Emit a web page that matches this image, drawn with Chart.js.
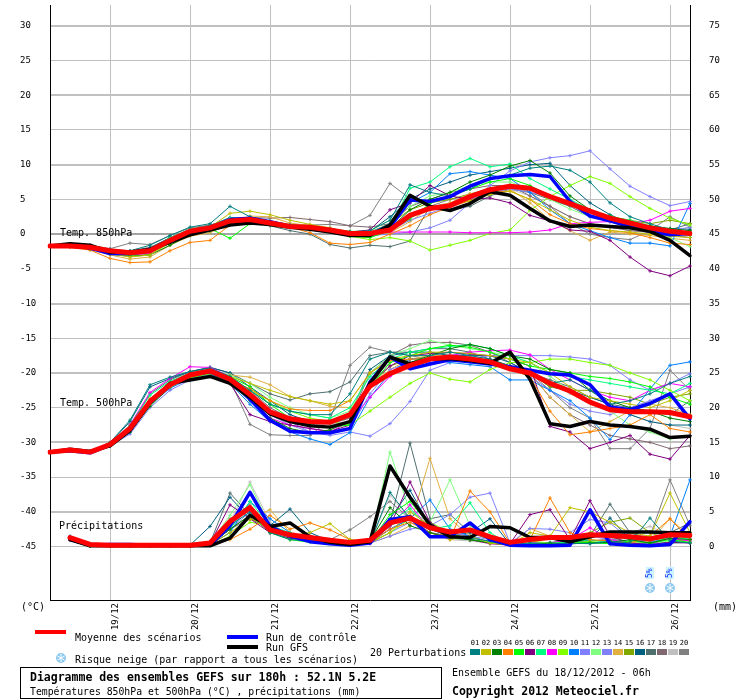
<!DOCTYPE html>
<html>
<head>
<meta charset="utf-8">
<title>Diagramme des ensembles GEFS</title>
<script src="https://cdn.jsdelivr.net/npm/chart.js@4.4.0/dist/chart.umd.min.js"></script>
<style>
  html, body { margin: 0; padding: 0; background: #fff; }
  canvas { display: block; }
</style>
</head>
<body>
<canvas id="gefsChart" width="740" height="700"></canvas>
<script>
// echeances (heures depuis le 18/12/2012 06h), pas de 6h
const hours = [0,6,12,18,24,30,36,42,48,54,60,66,72,78,84,90,96,102,108,114,120,126,132,138,144,150,156,162,168,174,180,186,192];
const dateLabels = ['','','','19/12','','','','20/12','','','','21/12','','','','22/12','','','','23/12','','','','24/12','','','','25/12','','','','26/12',''];
const leftTicks = [30,25,20,15,10,5,0,-5,-10,-15,-20,-25,-30,-35,-40,-45];
const rightTicks = [75,70,65,60,55,50,45,40,35,30,25,20,15,10,5,0];

// moyenne, controle, GFS
const mean850 = [-1.7,-1.7,-1.9,-2.4,-2.7,-2.4,-0.9,0.4,0.9,1.9, 2.1,1.6,1.1,1.0,0.6,0.1,0.1,0.6,2.7,3.7, 4.1,5.4,6.4,6.9,6.6,5.4,4.4,3.3,2.3,1.6, 0.9,0.4,0.1];
const ctrl850 = [-1.7,-1.6,-2.0,-2.8,-2.8,-2.4,-0.9,0.2,0.9,2.1, 2.3,1.8,1.1,0.9,0.6,0.1,0.0,1.0,4.9,4.7, 5.4,6.9,8.0,8.4,8.6,8.3,4.7,2.6,1.9,1.1, 0.4,-0.1,0.1];
const gfs850 = [-1.7,-1.4,-1.6,-2.6,-2.6,-2.2,-1.2,-0.1,0.6,1.3, 1.6,1.4,1.0,0.7,0.3,-0.2,-0.2,1.3,5.6,4.0, 3.4,4.4,6.1,5.6,3.7,1.9,1.1,1.3,1.1,0.9, 0.4,-0.9,-3.1];

const mean500 = [-31.4,-31.1,-31.4,-30.3,-28.0,-24.1,-21.7,-20.3,-19.7,-20.9, -23.1,-25.6,-26.6,-27.0,-27.1,-26.0,-21.9,-20.1,-18.9,-18.0, -17.7,-18.0,-18.4,-19.4,-20.0,-21.5,-22.6,-24.2,-25.3,-25.6, -25.6,-25.7,-26.3];
const ctrl500 = [-31.4,-31.2,-31.5,-30.4,-28.2,-24.2,-21.7,-20.3,-19.8,-21.0, -23.8,-26.8,-28.4,-28.6,-28.6,-28.0,-21.3,-17.7,-19.4,-18.7, -18.1,-18.4,-18.7,-19.1,-19.6,-20.1,-20.3,-21.7,-24.9,-25.3, -24.4,-23.0,-26.6];
const gfs500 = [-31.4,-31.0,-31.3,-30.5,-28.3,-24.3,-21.5,-21.0,-20.5,-21.5, -23.5,-25.9,-27.0,-27.6,-27.8,-27.0,-21.5,-17.7,-18.7,-18.0, -17.9,-18.2,-18.6,-17.0,-20.9,-27.3,-27.7,-27.0,-27.5,-27.7, -28.1,-29.3,-29.1];

const meanRain = [null,1.3,0.3,0.2,0.2,0.2,0.2,0.2,0.5,3.6, 5.6,2.4,1.7,1.3,0.9,0.6,0.9,3.4,4.1,2.7, 2.1,2.4,1.4,0.6,1.0,1.3,1.3,1.7,1.6,1.4, 1.1,1.7,1.6];
const ctrlRain = [null,1.0,0.2,0.3,0.3,0.2,0.2,0.2,0.2,3.0, 7.8,2.9,1.5,0.7,0.4,0.2,0.5,3.9,4.3,1.4, 1.4,3.4,1.0,0.2,0.1,0.1,0.2,5.3,0.4,0.2, 0.1,0.3,3.6];
const gfsRain = [null,1.0,0.1,0.1,0.1,0.1,0.1,0.1,0.1,1.2, 4.5,2.9,3.4,1.4,0.6,0.3,0.7,11.6,7.1,3.1, 1.4,1.3,2.9,2.7,1.3,1.3,0.7,1.4,2.1,2.1, 2.1,2.0,2.0];

// risque neige (%)
const snowRisk = [null,null,null,null,null,null,null,null,null,null, null,null,null,null,null,null,null,null,null,null, null,null,null,null,null,null,null,null,null,null, 5,5,null];

// 20 perturbations
const pertColors = ['#008080','#c0c000','#008000','#ff8000','#00ff00','#800080','#00ff80','#ff00ff','#80ff00','#0080ff',
                    '#8080ff','#80ff80','#8080f8','#e0b040','#80a800','#006080','#507070','#806870','#c0c0c0','#808080'];

const t850Pert = [
  [-1.7,-1.5,-1.8,-2.3,-2.4,-1.6,-0.2,1.0,1.5,4.0, 2.5,1.8,1.3,1.0,0.8,0.3,0.5,2.0,7.1,6.0, 5.5,6.5,8.0,8.5,9.5,9.8,9.2,7.5,4.5,2.5, 1.5,0.6,0.0],
  [-1.7,-1.8,-2.0,-2.8,-3.3,-3.0,-1.2,0.3,1.0,3.0, 3.3,2.8,2.0,1.4,0.9,0.2,0.0,0.5,2.5,3.5, 4.2,4.8,5.7,6.2,5.0,3.5,2.0,1.0,0.5,0.3, 0.0,-0.3,-0.5],
  [-1.7,-1.6,-2.1,-2.9,-3.2,-3.0,-1.6,-0.1,0.5,1.6, 1.9,1.5,1.0,0.8,0.5,0.0,-0.2,0.8,3.5,5.0, 6.0,7.5,8.5,9.8,10.6,8.8,5.5,3.5,2.5,1.5, 1.2,0.8,0.5],
  [-1.7,-1.9,-2.3,-3.5,-4.1,-4.0,-2.4,-1.2,-0.9,1.3, 2.0,1.7,1.0,0.2,-1.3,-1.5,-1.2,0.0,1.2,2.8, 3.9,4.8,6.0,6.2,5.0,2.8,1.5,0.8,0.5,0.2, -0.5,-1.3,-1.5],
  [-1.7,-1.7,-1.9,-2.6,-3.0,-2.6,-1.0,0.2,0.8,-0.6, 1.5,1.4,1.2,0.9,0.5,-0.3,-0.5,0.5,2.2,4.4, 5.5,6.5,7.5,8.0,7.0,5.5,4.3,3.5,2.6,1.9, 1.0,0.3,-0.2],
  [-1.7,-1.6,-1.8,-2.5,-2.8,-2.2,-0.8,0.5,1.0,2.0, 2.2,1.8,1.3,1.1,0.8,0.3,0.6,3.5,4.5,7.0, 5.5,5.0,5.2,4.5,2.7,1.9,0.6,0.4,-0.9,-3.3, -5.3,-6.0,-4.6],
  [-1.7,-1.6,-2.0,-2.4,-2.7,-2.3,-0.5,0.7,1.1,2.3, 2.3,1.8,1.2,1.1,0.7,0.4,0.2,1.0,6.6,7.5, 9.7,10.9,9.7,10.1,8.0,6.5,5.0,3.5,2.5,2.0, 1.2,0.5,0.3],
  [-1.7,-1.8,-2.0,-2.6,-3.0,-2.8,-1.0,0.3,0.8,2.0, 2.2,1.6,1.1,0.9,0.5,0.3,0.3,0.3,0.3,0.3, 0.3,0.2,0.2,0.2,0.3,0.6,1.5,1.7,1.8,1.5, 2.0,3.3,3.7],
  [-1.7,-1.8,-2.1,-2.6,-3.1,-2.9,-1.3,0.0,0.6,1.6, 2.0,1.5,1.2,0.9,0.4,-0.3,-0.8,-0.5,-1.0,-2.3, -1.6,-0.9,0.1,0.6,3.4,5.4,7.0,8.3,7.3,5.4, 3.7,2.3,1.3],
  [-1.7,-1.7,-2.0,-2.7,-3.0,-2.5,-0.8,0.5,1.0,2.0, 2.1,1.5,1.0,0.9,0.6,0.1,0.2,1.5,4.5,6.0, 8.7,9.0,8.5,8.0,6.0,3.5,1.5,0.5,-0.5,-1.3, -1.3,-1.7,4.4],
  [-1.7,-1.8,-2.1,-2.7,-3.0,-2.7,-1.3,0.0,0.6,1.7, 1.9,1.6,1.2,0.9,0.5,0.0,-0.2,0.0,0.3,0.9, 2.0,4.5,7.0,9.1,10.4,11.0,11.3,12.0,9.4,6.9, 5.4,4.1,4.7],
  [-1.7,-1.6,-1.9,-2.5,-2.8,-2.5,-0.7,0.6,1.1,2.2, 2.4,1.9,1.3,1.1,0.8,0.4,0.5,2.0,4.0,5.5, 6.0,7.0,7.5,7.5,6.5,5.0,3.6,2.5,1.8,0.8, 0.3,-0.5,-1.8],
  [-1.7,-1.7,-1.9,-2.5,-2.9,-2.6,-1.1,0.3,0.8,1.8, 2.0,1.6,1.2,1.0,0.6,0.1,0.0,0.5,2.0,3.0, 4.0,5.0,6.0,6.5,6.0,5.5,4.5,3.5,2.0,1.0, 0.5,0.5,1.0],
  [-1.7,-1.8,-2.2,-3.0,-3.6,-3.3,-1.6,-0.3,0.2,1.5, 2.6,2.5,1.6,1.2,0.6,-0.2,-0.3,0.2,1.8,3.8, 4.5,5.8,6.0,6.5,4.5,2.0,0.5,-0.9,0.3,0.0, -0.2,-0.6,-0.9],
  [-1.7,-1.7,-2.0,-2.6,-2.9,-2.6,-1.2,0.2,0.8,1.8, 2.2,1.7,1.2,1.0,0.6,0.1,0.3,1.5,3.5,4.5, 5.0,5.8,6.5,7.0,6.5,5.5,4.5,3.5,2.5,2.0, 1.5,2.0,1.5],
  [-1.7,-1.6,-1.7,-2.2,-2.5,-2.0,-0.5,0.6,1.2,2.4, 2.2,1.5,1.0,0.6,0.3,0.0,0.4,2.5,5.0,6.5, 7.5,8.5,9.0,9.5,10.0,10.2,7.0,4.5,2.8,1.5, 1.0,0.8,0.7],
  [-1.7,-1.7,-1.9,-2.4,-2.6,-2.1,-0.6,0.4,0.9,1.8, 1.8,1.2,0.5,0.0,-1.5,-2.0,-1.6,-1.8,-1.0,4.0, 3.5,4.0,5.5,6.5,6.0,5.0,4.0,2.5,1.8,1.6, 0.8,0.6,1.5],
  [-1.7,-1.5,-1.6,-2.2,-2.4,-1.9,-0.6,0.7,1.3,2.1, 2.4,2.3,2.4,2.1,1.8,1.2,1.0,1.5,4.0,5.0, 6.0,6.5,7.0,7.0,5.5,4.0,2.5,1.5,1.0,0.5, 0.3,-0.2,-0.5],
  [-1.7,-1.7,-2.0,-2.7,-3.1,-2.7,-1.1,0.2,0.8,1.8, 2.0,1.6,1.1,0.9,0.5,0.0,0.0,0.8,3.0,4.0, 4.5,5.5,6.2,6.5,5.5,4.0,2.5,1.5,1.0,0.5, 0.2,0.0,-0.5],
  [-1.7,-1.5,-1.6,-2.1,-1.3,-1.5,-0.2,0.9,1.3,2.0, 2.3,1.9,1.4,1.3,1.4,1.2,2.7,7.3,5.1,4.0, 5.0,5.5,6.5,7.0,6.0,4.0,1.5,0.0,-0.5,-0.8, 0.5,2.5,1.0]
];

const t500Pert = [
  [-31.4,-31.1,-31.3,-30.0,-26.8,-21.7,-20.6,-19.8,-19.3,-20.5, -22.5,-24.5,-25.5,-26.0,-26.0,-23.0,-18.0,-17.0,-17.5,-17.5, -17.0,-17.5,-18.0,-19.0,-20.0,-21.5,-21.0,-22.5,-24.5,-24.0, -23.0,-21.5,-20.5],
  [-31.4,-31.1,-31.4,-30.4,-28.3,-24.5,-22.0,-20.6,-20.0,-20.5, -21.5,-22.5,-23.4,-24.0,-24.5,-24.0,-20.0,-18.0,-17.5,-17.0, -17.0,-17.2,-17.5,-18.0,-18.5,-20.0,-22.0,-23.5,-24.0,-24.5, -25.0,-24.0,-22.5],
  [-31.4,-31.1,-31.4,-30.5,-28.5,-24.8,-22.0,-20.6,-20.0,-21.5, -24.0,-26.5,-28.0,-28.6,-28.2,-27.0,-21.5,-20.0,-18.5,-17.5, -16.5,-15.9,-16.5,-17.5,-18.0,-19.5,-20.0,-22.5,-24.0,-25.0, -25.5,-26.5,-27.0],
  [-31.4,-31.1,-31.4,-30.3,-27.8,-23.7,-21.5,-20.2,-19.9,-21.0, -22.3,-24.0,-25.2,-25.4,-25.4,-24.0,-20.0,-18.2,-18.0,-18.0, -17.8,-18.0,-18.8,-19.5,-20.5,-25.5,-28.9,-28.5,-28.0,-27.5, -26.0,-28.0,-28.5],
  [-31.4,-31.1,-31.4,-30.4,-28.2,-24.3,-21.8,-20.4,-19.8,-20.5, -22.0,-24.5,-26.5,-27.5,-27.8,-27.5,-22.0,-18.5,-17.5,-16.5, -16.0,-16.3,-17.0,-18.0,-19.0,-19.5,-20.0,-20.5,-20.8,-21.3, -22.0,-23.5,-24.5],
  [-31.4,-31.1,-31.4,-30.4,-28.0,-24.0,-21.5,-20.0,-19.5,-21.5, -26.0,-27.0,-27.5,-28.0,-28.4,-27.5,-21.5,-19.0,-17.5,-17.2, -17.0,-17.3,-17.5,-18.0,-19.0,-27.7,-28.5,-30.9,-30.0,-29.0, -31.7,-32.4,-29.0],
  [-31.4,-31.1,-31.3,-30.2,-27.6,-23.2,-21.2,-20.0,-19.6,-20.6, -22.5,-24.5,-25.5,-26.0,-26.5,-25.0,-20.5,-18.0,-17.0,-16.5, -16.2,-15.9,-16.5,-17.5,-18.5,-20.0,-20.5,-21.0,-21.5,-22.0, -22.5,-23.0,-21.5],
  [-31.4,-31.1,-31.4,-30.3,-27.5,-22.8,-20.8,-19.1,-19.2,-20.5, -23.5,-26.5,-27.5,-28.0,-28.5,-27.0,-23.5,-20.5,-18.5,-18.0, -17.5,-17.0,-16.8,-16.7,-17.4,-19.5,-21.0,-22.5,-23.5,-24.0, -22.5,-21.5,-22.0],
  [-31.4,-31.1,-31.4,-30.4,-28.2,-24.4,-22.0,-20.7,-20.1,-21.0, -22.5,-24.0,-25.5,-26.5,-27.0,-27.5,-25.5,-23.5,-21.5,-20.0, -20.9,-21.3,-19.5,-18.5,-18.5,-18.0,-18.0,-18.5,-18.9,-20.0, -21.0,-22.5,-24.0],
  [-31.4,-31.1,-31.4,-30.5,-28.5,-24.6,-22.2,-20.8,-20.1,-21.5, -24.5,-27.0,-28.5,-29.5,-30.3,-28.6,-23.5,-20.0,-18.0,-18.0, -18.5,-18.8,-19.1,-21.0,-21.0,-22.5,-24.0,-26.5,-29.6,-26.0, -22.3,-18.9,-18.4],
  [-31.4,-31.1,-31.4,-30.5,-28.8,-25.0,-22.5,-21.0,-20.3,-21.2, -23.0,-25.5,-27.0,-28.5,-29.0,-28.5,-29.1,-27.3,-24.1,-19.6, -18.5,-18.0,-17.5,-17.5,-17.5,-17.5,-17.7,-18.0,-18.9,-21.0, -22.5,-21.5,-20.1],
  [-31.4,-31.1,-31.4,-30.3,-27.9,-23.9,-21.5,-20.0,-19.5,-20.3, -21.5,-23.5,-25.0,-26.0,-26.5,-25.5,-20.0,-17.5,-16.5,-15.3, -16.0,-16.5,-17.0,-17.5,-18.5,-20.5,-22.5,-24.0,-25.5,-27.5, -28.5,-29.5,-29.0],
  [-31.4,-31.1,-31.4,-30.4,-28.1,-24.2,-21.8,-20.4,-19.8,-20.8, -23.0,-26.0,-27.5,-28.5,-28.8,-28.0,-23.0,-19.5,-18.5,-18.5, -18.0,-18.3,-18.8,-19.5,-20.5,-22.5,-24.5,-25.5,-26.0,-25.0, -24.0,-23.0,-22.0],
  [-31.4,-31.1,-31.4,-30.3,-28.0,-24.0,-21.5,-20.5,-20.0,-20.3, -20.6,-21.7,-23.4,-24.0,-24.8,-25.0,-22.0,-19.5,-18.0,-17.5, -17.5,-17.8,-18.3,-19.0,-20.0,-23.5,-26.0,-28.5,-27.0,-25.5, -24.5,-25.0,-26.0],
  [-31.4,-31.1,-31.4,-30.4,-28.1,-24.2,-21.8,-20.3,-19.8,-20.8, -23.0,-25.5,-26.5,-27.5,-27.8,-27.0,-22.0,-19.0,-18.0,-17.8, -17.5,-17.8,-18.2,-19.0,-20.0,-22.0,-22.5,-22.5,-23.0,-23.5, -24.5,-23.5,-23.0],
  [-31.4,-31.1,-31.3,-30.1,-27.0,-22.0,-20.8,-19.8,-19.2,-20.0, -22.0,-24.0,-26.0,-27.0,-27.0,-26.0,-19.5,-17.5,-17.0,-17.0, -17.5,-17.5,-17.5,-18.5,-20.0,-22.0,-22.5,-23.5,-24.5,-26.0, -27.0,-27.5,-27.5],
  [-31.4,-31.1,-31.3,-30.2,-27.5,-23.0,-21.0,-19.8,-19.2,-20.0, -21.5,-23.0,-23.9,-23.0,-22.7,-21.3,-17.5,-17.0,-17.0,-16.5, -16.5,-17.0,-18.0,-19.0,-20.0,-21.0,-22.0,-23.5,-24.5,-25.0, -25.5,-26.0,-24.0],
  [-31.4,-31.1,-31.4,-30.3,-28.0,-24.0,-21.7,-20.3,-19.8,-20.8, -22.5,-25.0,-26.5,-27.0,-27.3,-26.5,-20.0,-17.5,-16.0,-15.6, -15.6,-16.0,-17.0,-18.5,-20.0,-23.5,-26.0,-27.5,-29.0,-29.5, -30.0,-30.9,-30.5],
  [-31.4,-31.1,-31.4,-30.4,-28.2,-24.4,-22.0,-20.5,-19.9,-20.6, -22.8,-25.5,-26.8,-27.3,-27.5,-26.5,-21.0,-18.5,-17.5,-17.2, -17.3,-17.6,-18.0,-19.0,-20.0,-21.5,-23.0,-24.0,-25.0,-26.0, -27.0,-27.5,-28.0],
  [-31.4,-31.1,-31.4,-30.3,-28.0,-24.0,-21.6,-20.2,-19.7,-21.0, -27.4,-28.9,-29.0,-29.0,-26.7,-18.9,-16.3,-17.0,-17.5,-18.0, -18.0,-18.0,-18.5,-19.0,-20.0,-22.5,-25.0,-26.5,-30.9,-30.9, -28.0,-19.6,-22.5]
];

const rainPert = [
  [null,1.2,0.1,0.1,0.1,0.1,0.1,0.2,0.5,3.0, 5.0,2.0,1.0,0.8,0.5,0.3,0.5,7.8,4.0,2.5, 1.5,1.2,0.8,0.3,0.5,0.3,0.5,0.4,0.8,0.5, 4.1,0.8,0.5],
  [null,1.0,0.1,0.1,0.1,0.1,0.1,0.2,0.3,2.0, 4.0,3.0,1.5,2.0,3.3,1.0,0.5,2.0,5.0,3.0, 1.0,1.5,0.5,0.2,2.0,1.5,5.6,5.0,3.5,2.0, 1.5,7.7,2.0],
  [null,1.1,0.1,0.1,0.1,0.1,0.1,0.1,0.3,2.5, 4.5,2.5,1.5,1.0,0.6,0.4,0.8,5.6,3.0,2.0, 1.2,1.0,0.5,0.2,0.3,0.5,0.4,0.5,0.6,1.0, 0.5,1.2,1.0],
  [null,1.0,0.1,0.1,0.1,0.1,0.1,0.1,0.2,1.0, 2.5,4.5,2.5,3.4,2.4,1.0,0.6,2.5,3.5,2.0, 1.0,8.0,5.0,0.5,1.0,7.0,2.0,1.0,0.8,0.5, 1.5,4.0,1.0],
  [null,1.3,0.1,0.1,0.1,0.1,0.1,0.1,0.4,3.5, 5.5,2.0,1.0,0.6,0.4,0.3,0.6,4.6,6.5,3.0, 1.5,1.0,0.6,0.2,0.3,0.2,0.5,0.6,0.4,0.8, 0.5,1.0,0.6],
  [null,1.2,0.2,0.1,0.1,0.1,0.1,0.1,0.4,6.0, 4.0,2.0,1.2,1.0,0.6,0.4,0.5,3.0,9.3,3.5, 1.5,1.0,0.5,0.4,4.6,5.3,1.0,6.6,1.5,0.5, 0.3,0.6,0.5],
  [null,1.1,0.1,0.1,0.1,0.1,0.1,0.2,0.5,2.5, 6.5,3.0,2.0,1.2,0.8,0.4,0.5,3.5,5.5,2.5, 3.0,6.3,2.0,0.3,0.4,0.5,0.6,1.0,0.5,0.4, 0.3,1.5,1.0],
  [null,1.0,0.1,0.1,0.1,0.1,0.1,0.1,0.3,3.0, 5.5,2.5,1.5,1.0,0.6,0.3,0.4,3.0,6.0,2.5, 1.5,1.0,0.4,0.2,0.3,0.5,1.0,2.7,1.0,0.5, 0.3,1.2,0.8],
  [null,1.2,0.1,0.1,0.1,0.1,0.1,0.1,0.2,1.5, 3.5,3.0,1.0,0.8,0.5,0.3,0.6,2.0,4.0,3.5, 2.0,1.0,0.4,0.3,0.8,0.5,0.6,0.7,0.6,1.5, 1.0,1.0,1.5],
  [null,1.5,0.1,0.1,0.1,0.1,0.1,0.1,0.3,2.0, 6.5,4.0,2.0,1.0,0.5,0.3,0.5,2.5,4.0,6.7, 2.5,1.5,0.6,0.2,0.3,0.2,0.4,0.5,0.5,0.4, 0.5,1.5,9.6],
  [null,1.0,0.1,0.1,0.1,0.1,0.1,0.2,0.4,3.0, 7.8,2.5,1.5,1.0,0.6,0.3,0.5,1.5,2.5,3.0, 4.6,7.1,7.7,0.5,2.6,2.5,2.0,3.9,3.4,1.0, 0.5,1.5,1.0],
  [null,1.1,0.1,0.1,0.1,0.1,0.1,0.2,0.5,4.5, 8.9,3.0,1.5,1.0,0.7,0.3,0.5,13.6,5.0,3.5, 9.6,3.0,1.0,0.3,0.4,0.3,0.5,0.6,0.4,0.5, 0.4,0.8,0.6],
  [null,1.2,0.1,0.1,0.1,0.1,0.1,0.1,0.3,2.5, 5.0,2.0,1.5,1.5,1.0,0.5,0.5,2.0,3.5,2.5, 2.0,1.5,1.0,0.3,0.5,0.5,1.0,1.5,1.0,0.8, 1.0,2.0,1.5],
  [null,1.0,0.1,0.1,0.1,0.1,0.1,0.1,0.3,2.0, 4.0,5.3,2.0,1.0,0.6,0.4,0.5,1.5,3.0,12.7, 4.0,1.5,0.6,0.3,2.6,1.5,0.5,0.6,0.5,0.5, 0.8,4.0,1.5],
  [null,1.1,0.1,0.1,0.1,0.1,0.1,0.1,0.3,2.5, 4.5,2.0,1.5,1.0,0.6,0.3,0.5,3.0,4.5,2.5, 1.5,1.0,0.5,0.3,0.4,0.5,1.0,2.0,3.5,4.1, 2.0,1.0,0.8],
  [null,1.2,0.1,0.1,0.1,0.1,0.1,0.2,2.9,7.1, 4.0,3.0,5.4,2.0,0.8,0.3,0.6,4.0,8.1,3.0, 1.5,2.0,4.0,0.3,0.4,0.3,0.5,1.0,4.1,1.0, 0.8,0.5,0.6],
  [null,1.0,0.1,0.1,0.1,0.1,0.1,0.1,0.5,7.7, 4.5,2.5,1.5,1.2,0.8,0.4,0.6,3.5,14.9,4.0, 4.6,2.0,1.0,0.3,0.5,0.6,0.8,1.5,6.1,2.0, 1.0,2.0,3.4],
  [null,1.1,0.1,0.1,0.1,0.1,0.1,0.1,0.3,2.5, 4.0,2.5,1.5,1.0,0.7,0.5,0.8,2.5,4.0,2.0, 1.5,1.0,0.6,0.3,0.5,0.5,0.6,0.8,1.0,1.2, 0.8,1.5,1.2],
  [null,1.0,0.1,0.1,0.1,0.1,0.1,0.2,0.4,3.5, 9.3,3.5,1.5,1.0,0.6,0.3,0.5,7.4,4.0,2.0, 1.0,0.8,0.5,0.3,0.4,0.4,0.5,0.8,1.0,2.0, 2.9,1.5,1.0],
  [null,1.2,0.1,0.1,0.1,0.1,0.1,0.2,0.6,4.0, 6.0,2.5,1.5,1.2,1.0,2.4,4.3,6.5,4.0,2.0, 1.5,1.0,0.6,0.3,0.5,0.5,0.6,0.8,1.0,1.5, 1.5,9.6,3.0]
];

// bornes de l'axe des temperatures (l'axe mm est decale de +45)
const yMin = -52.7;
const yMax = 33;
const MONO = '"DejaVu Sans Mono", "Liberation Mono", monospace';

function pertSet(values, k, axis) {
    return {
        data: values, yAxisID: axis,
        borderColor: pertColors[k], backgroundColor: pertColors[k],
        borderWidth: 1, pointStyle: 'cross', pointRadius: 1.8, pointBorderWidth: 1,
        order: 3
    };
}
function mainSet(values, color, width, axis, order) {
    return {
        data: values, yAxisID: axis, borderColor: color, backgroundColor: color,
        borderWidth: width, pointRadius: 0, borderJoinStyle: 'round', borderCapStyle: 'round',
        order: order
    };
}

var datasets = [];
for (let k = 0; k < 20; k++) {
    datasets.push(pertSet(t850Pert[k], k, 'y'));
    datasets.push(pertSet(t500Pert[k], k, 'y'));
    datasets.push(pertSet(rainPert[k], k, 'y2'));
}
[['y', ctrl850, gfs850, mean850], ['y', ctrl500, gfs500, mean500], ['y2', ctrlRain, gfsRain, meanRain]].forEach(function (g) {
    datasets.push(mainSet(g[1], '#0000ff', 3.5, g[0], 2));
    datasets.push(mainSet(g[2], '#000000', 3.5, g[0], 1));
    datasets.push(mainSet(g[3], '#ff0000', 5, g[0], 0));
});

function flake(c, x, y, r) {
    c.fillStyle = '#8ec9ef';
    c.beginPath(); c.arc(x, y, r, 0, Math.PI * 2); c.fill();
    c.strokeStyle = '#ffffff'; c.lineWidth = 1;
    for (let k = 0; k < 3; k++) {
        const a = k * Math.PI / 3 + Math.PI / 2;
        c.beginPath();
        c.moveTo(x + Math.cos(a) * (r - 1), y + Math.sin(a) * (r - 1));
        c.lineTo(x - Math.cos(a) * (r - 1), y - Math.sin(a) * (r - 1));
        c.stroke();
    }
}

const decorations = {
    id: 'decorations',
    beforeDraw(chart) {
        const c = chart.ctx;
        c.save(); c.fillStyle = '#fff'; c.fillRect(0, 0, chart.width, chart.height); c.restore();
    },
    afterDatasetsDraw(chart) {
        const c = chart.ctx;
        const xs = chart.scales.x;
        c.save();
        c.fillStyle = '#000';
        c.font = '10px ' + MONO;
        c.textBaseline = 'middle';
        c.fillText('Temp. 850hPa', 60, 233);
        c.fillText('Temp. 500hPa', 60, 403);
        c.fillText('Précipitations', 59, 526);

        // risque neige
        snowRisk.forEach(function (v, i) {
            if (v == null) return;
            const px = xs.getPixelForValue(i);
            flake(c, px, 588, 5);
            c.save();
            c.translate(px, 578);
            c.rotate(-Math.PI / 2);
            c.fillStyle = '#cdf3ff';
            c.fillRect(-1, -4, 12, 8);
            c.fillStyle = '#1030ff';
            c.font = '8px ' + MONO;
            c.textAlign = 'left';
            c.fillText(v + '%', 0, 0);
            c.restore();
        });
        c.restore();
    },
    afterDraw(chart) {
        const c = chart.ctx;
        c.save();
        c.fillStyle = '#000';
        c.textBaseline = 'middle';
        c.font = '10px ' + MONO;
        c.fillText('(°C)', 21, 607);
        c.fillText('(mm)', 713, 607);

        // legende
        c.fillStyle = '#ff0000'; c.fillRect(35, 630, 31, 4);
        c.fillStyle = '#0000ff'; c.fillRect(227, 635, 31, 4);
        c.fillStyle = '#000000'; c.fillRect(227, 645, 31, 4);
        c.fillText('Moyenne des scénarios', 75, 638);
        c.fillText('Run de contrôle', 266, 638);
        c.fillText('Run GFS', 266, 648);
        c.fillText('Risque neige (par rapport a tous les scénarios)', 75, 660);
        c.fillText('20 Perturbations', 370, 653);
        flake(c, 61, 658, 5);

        c.font = '7px ' + MONO;
        c.textAlign = 'center';
        pertColors.forEach(function (col, k) {
            c.fillStyle = col;
            c.fillRect(470 + 11 * k, 649, 10, 6);
            c.fillStyle = '#000';
            c.fillText(String(k + 1).padStart(2, '0'), 475 + 11 * k, 643);
        });

        // cartouche
        c.textAlign = 'left';
        c.strokeStyle = '#000'; c.lineWidth = 1;
        c.strokeRect(20.5, 667.5, 421, 31);
        c.font = 'bold 11.5px ' + MONO;
        c.fillText('Diagramme des ensembles GEFS sur 180h : 52.1N 5.2E', 30, 678);
        c.font = '9.8px ' + MONO;
        c.fillText('Températures 850hPa et 500hPa (°C) , précipitations (mm)', 30, 692);
        c.font = '10px ' + MONO;
        c.fillText('Ensemble GEFS du 18/12/2012 - 06h', 452, 673);
        c.font = 'bold 11.5px ' + MONO;
        c.fillText('Copyright 2012 Meteociel.fr', 452, 692);
        c.restore();
    }
};

var ctx = document.getElementById('gefsChart').getContext('2d');
var gefsChart = new Chart(ctx, {
    type: 'line',
    data: { labels: hours, datasets: datasets },
    plugins: [decorations],
    options: {
        responsive: false,
        devicePixelRatio: 1,
        animation: false,
        events: [],
        spanGaps: false,
        layout: { padding: { left: 20, right: 0, top: 0, bottom: 0 } },
        plugins: { legend: { display: false }, tooltip: { enabled: false } },
        scales: {
            x: {
                type: 'category',
                offset: false,
                grid: {
                    color: function (c) { return dateLabels[c.index] ? '#c0c0c0' : 'rgba(0,0,0,0)'; },
                    lineWidth: 1,
                    drawTicks: false
                },
                border: { color: '#000', width: 1 },
                ticks: {
                    autoSkip: false, minRotation: 90, maxRotation: 90,
                    padding: 3, labelOffset: 6,
                    color: '#000', font: { family: MONO, size: 9 },
                    callback: function (v, i) { return dateLabels[i]; }
                },
                afterFit: function (s) { s.height = 100; s.paddingLeft = 0; s.paddingRight = 0; }
            },
            y: {
                type: 'linear', position: 'left', min: yMin, max: yMax,
                afterBuildTicks: function (s) { s.ticks = leftTicks.map(function (v) { return { value: v }; }); },
                grid: {
                    color: function (c) { return c.tick && c.tick.value === 0 ? '#a4a4a4' : '#c0c0c0'; },
                    lineWidth: function (c) { return c.tick && c.tick.value % 10 === 0 ? 2 : 1; },
                    drawTicks: false
                },
                border: { color: '#000', width: 1 },
                ticks: {
                    crossAlign: 'far', padding: 0,
                    color: '#000', font: { family: MONO, size: 9 },
                    callback: function (v) { return String(v); }
                },
                afterFit: function (s) { s.width = 30; s.paddingTop = 0; s.paddingBottom = 0; }
            },
            y2: {
                type: 'linear', position: 'right', min: yMin + 45, max: yMax + 45,
                afterBuildTicks: function (s) { s.ticks = rightTicks.map(function (v) { return { value: v }; }); },
                grid: { drawOnChartArea: false, drawTicks: false },
                border: { color: '#000', width: 1 },
                ticks: {
                    crossAlign: 'near', padding: 19,
                    color: '#000', font: { family: MONO, size: 9 },
                    callback: function (v) { return String(v); }
                },
                afterFit: function (s) { s.width = 50; s.paddingTop = 0; s.paddingBottom = 0; }
            }
        }
    }
});
</script>
</body>
</html>
